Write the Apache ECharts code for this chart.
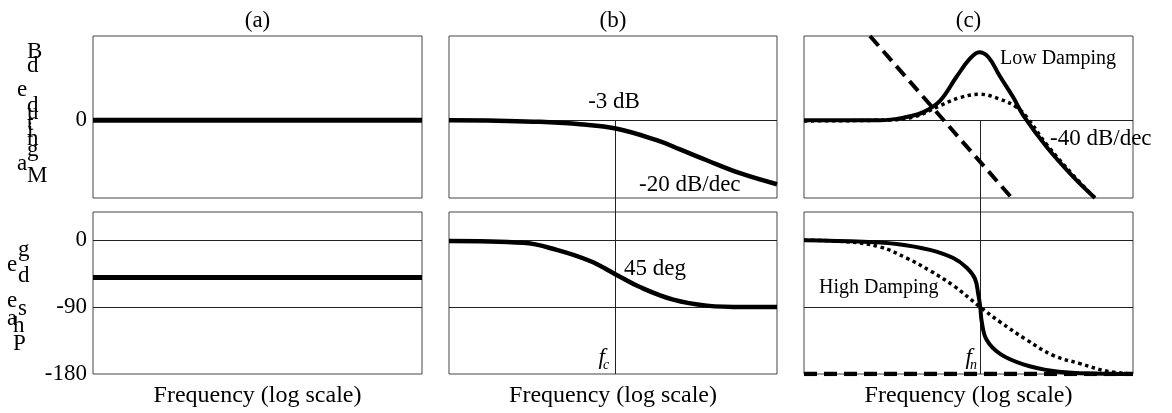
<!DOCTYPE html>
<html><head><meta charset="utf-8">
<script src="https://cdn.jsdelivr.net/npm/echarts@6/dist/echarts.min.js"></script>
<style>html,body{margin:0;padding:0;background:#fff}#c{width:1172px;height:413px}</style>
</head><body><div id="c"></div>
<script>
// ---------- data ----------
const panelTitles = ['(a)', '(b)', '(c)'];
const xAxisName = 'Frequency (log scale)';
const magName = 'Magnitude dB';
const phaseName = 'Phase deg';
const magTickLabels = ['0'];
const phaseTickLabels = ['0', '-90', '-180'];
const fc = 1.08;   // corner frequency, panel (b)
const fn = 1.39;   // natural frequency, panel (c)

const magA = [[0.01, 0], [100, 0]];
const phaseA = [[0.01, -50], [100, -50]];

const magB = [[0.01, 0], [0.0506, -0.4], [0.129, -1.0], [0.396, -2.5], [1.08, -5.1], [3.41, -12.3], [6.56, -18], [13.9, -24.7], [35.4, -32.7], [100, -39.5]];
const phaseB = [[0.01, -1], [0.0805, -3.5], [0.206, -13], [0.525, -28], [1.08, -46], [2.13, -63], [5.43, -80], [13.9, -88], [40, -90], [100, -90]];

const magCLow = [[0.01, 0], [0.0839, 0], [0.177, 2], [0.282, 5], [0.45, 12], [0.719, 27], [1.04, 38], [1.35, 42], [1.74, 39], [2.42, 27], [3.51, 14], [4.63, 3], [8.93, -16.5], [18.8, -35], [34.5, -48]];
const magCHigh = [[0.01, -0.4], [0.0839, 0], [0.213, 2], [0.45, 9], [0.789, 14], [1.38, 16], [2.42, 13], [3.85, 8], [5.09, 2], [8.93, -15], [18.8, -34], [34.5, -48]];
const magCAsym = [[0.0634, 52], [3.36, -48]];

const phaseCLow = [[0.01, 0], [0.0526, -2], [0.134, -5], [0.34, -13], [0.653, -24], [0.951, -37], [1.2, -52], [1.32, -74], [1.39, -90], [1.45, -110], [1.66, -134], [2.42, -153], [4.63, -167], [10.7, -176], [22.7, -179], [100, -180]];
const phaseCHigh = [[0.01, 0], [0.033, -2], [0.0839, -9], [0.177, -24], [0.34, -41], [0.653, -61], [1.39, -90], [2.42, -110], [5.09, -134], [10.7, -155], [22.7, -166], [47.9, -176], [100, -180]];
const phaseCAsym = [[0.01, -180], [100, -180]];

// ---------- layout ----------
const FONT = '"Liberation Serif", "Times New Roman", serif';
const cols = [{ left: 93, width: 329 }, { left: 449, width: 328 }, { left: 804, width: 329 }];
const rows = [{ top: 36, height: 162 }, { top: 212, height: 162 }];
const magRange = { min: -48, max: 52, interval: 48 };
const phaseRange = { min: -180, max: 38, interval: 90 };
const overlayRange = { min: -157, max: 52 };

const grids = [], xAxes = [], yAxes = [], series = [];
rows.forEach((r, ri) => cols.forEach((c, ci) => {
  grids.push({ left: c.left, top: r.top, width: c.width, height: r.height, show: true,
    borderColor: '#444', borderWidth: 1, backgroundColor: 'transparent' });
  const gi = grids.length - 1;
  xAxes.push({ type: 'log', logBase: 10, gridIndex: gi, min: 0.01, max: 100,
    axisLine: { show: false }, axisTick: { show: false }, axisLabel: { show: false }, splitLine: { show: false },
    name: ri === 1 ? xAxisName : '', nameLocation: 'middle', nameGap: 10,
    nameTextStyle: { fontFamily: FONT, fontSize: 24, color: '#000' } });
  const rng = ri === 0 ? magRange : phaseRange;
  const labs = ri === 0 ? magTickLabels : phaseTickLabels;
  yAxes.push({ type: 'value', gridIndex: gi, min: rng.min, max: rng.max, interval: rng.interval,
    axisLine: { show: false }, axisTick: { show: false }, splitLine: { show: false },
    axisLabel: { show: ci === 0, margin: 6, fontFamily: FONT, fontSize: 23, color: '#000',
      showMinLabel: true, showMaxLabel: true,
      formatter: v => labs.includes(String(v)) ? String(v) : '' } });
  // horizontal reference lines
  series.push({ type: 'line', xAxisIndex: gi, yAxisIndex: gi, data: [], silent: true,
    markLine: { z: 1, symbol: ['none', 'none'], silent: true, label: { show: false }, animation: false,
      lineStyle: { color: '#222', width: 1, type: 'solid' },
      data: (ri === 0 ? magTickLabels : ['0', '-90']).map(v => ({ yAxis: Number(v) })) } });
}));
// overlay grids for the fc / fn vertical guides (from 0 dB down through phase panel)
[[1, fc], [2, fn]].forEach(([ci, f]) => {
  const c = cols[ci];
  grids.push({ left: c.left, width: c.width, top: rows[0].top, height: rows[1].top + rows[1].height - rows[0].top, show: false });
  const gi = grids.length - 1;
  xAxes.push({ type: 'log', logBase: 10, gridIndex: gi, min: 0.01, max: 100, show: false });
  yAxes.push({ type: 'value', gridIndex: gi, min: overlayRange.min, max: overlayRange.max, show: false });
  series.push({ type: 'line', xAxisIndex: gi, yAxisIndex: gi, data: [], silent: true,
    markLine: { z: 1, symbol: ['none', 'none'], silent: true, label: { show: false }, animation: false,
      lineStyle: { color: '#222', width: 1, type: 'solid' },
      data: [[{ coord: [f, 0] }, { coord: [f, overlayRange.min] }]] } });
});

function curve(gi, data, width, type, smooth) {
  series.push({ type: 'line', xAxisIndex: gi, yAxisIndex: gi, data: data, showSymbol: false, symbol: 'none',
    smooth: smooth, silent: true, animation: false, z: 3,
    lineStyle: { color: '#000', width: width, type: type, cap: 'butt' } });
}
curve(0, magA, 5, 'solid', false);
curve(3, phaseA, 5, 'solid', false);
curve(1, magB, 4.5, 'solid', 0.4);
curve(4, phaseB, 4.5, 'solid', 0.4);
curve(2, magCAsym, 4, [13, 7], false);
curve(2, magCHigh, 3.5, [3.5, 3.5], 0.4);
curve(2, magCLow, 4, 'solid', 0.4);
curve(5, phaseCAsym, 4.5, [13, 7], false);
curve(5, phaseCHigh, 3.5, [3.5, 3.5], 0.4);
curve(5, phaseCLow, 4, 'solid', 0.4);

// ---------- text ----------
const graphic = [];
function txt(text, x, y, align, size, italic) {
  graphic.push({ type: 'text', x: x, y: y, silent: true,
    style: { text: text, font: (italic ? 'italic ' : '') + size + 'px ' + FONT, fill: '#000', align: align, verticalAlign: 'middle' } });
}
panelTitles.forEach((t, i) => txt(t, cols[i].left + cols[i].width / 2, 21, 'center', 23));
txt('-3 dB', 614, 102, 'center', 23);
txt('-20 dB/dec', 639, 185, 'left', 23);
txt('45 deg', 624, 269, 'left', 23);
txt('Low Damping', 1000, 59, 'left', 20);
txt('-40 dB/dec', 1050, 139, 'left', 23);
txt('High Damping', 819, 288, 'left', 20);
// italic symbol with subscript
txt('f', 605, 358, 'right', 23, true);
txt('c', 603, 365, 'left', 14, true);
txt('f', 972, 358, 'right', 23, true);
txt('n', 970, 365, 'left', 14, true);
// stacked axis-name letters (bottom to top)
const magLetterPos = [[27, 176], [17, 164], [27, 150], [27, 139], [27, 131], [27, 124], [27, 113], [27, 106], [17, 90], [27, 66], [27, 52]];
const phaseLetterPos = [[13, 344], [13, 326], [7, 318.5], [18, 308.5], [7, 300.5], [18, 276], [7, 264.5], [18, 250]];
magName.replace(/ /g, '').split('').forEach((ch, i) => txt(ch, magLetterPos[i][0], magLetterPos[i][1], 'left', 23));
phaseName.replace(/ /g, '').split('').forEach((ch, i) => txt(ch, phaseLetterPos[i][0], phaseLetterPos[i][1], 'left', 23));

const chart = echarts.init(document.getElementById('c'), null, { renderer: 'canvas' });
chart.setOption({ animation: false, backgroundColor: '#fff', grid: grids, xAxis: xAxes, yAxis: yAxes, series: series, graphic: graphic });
</script></body></html>
